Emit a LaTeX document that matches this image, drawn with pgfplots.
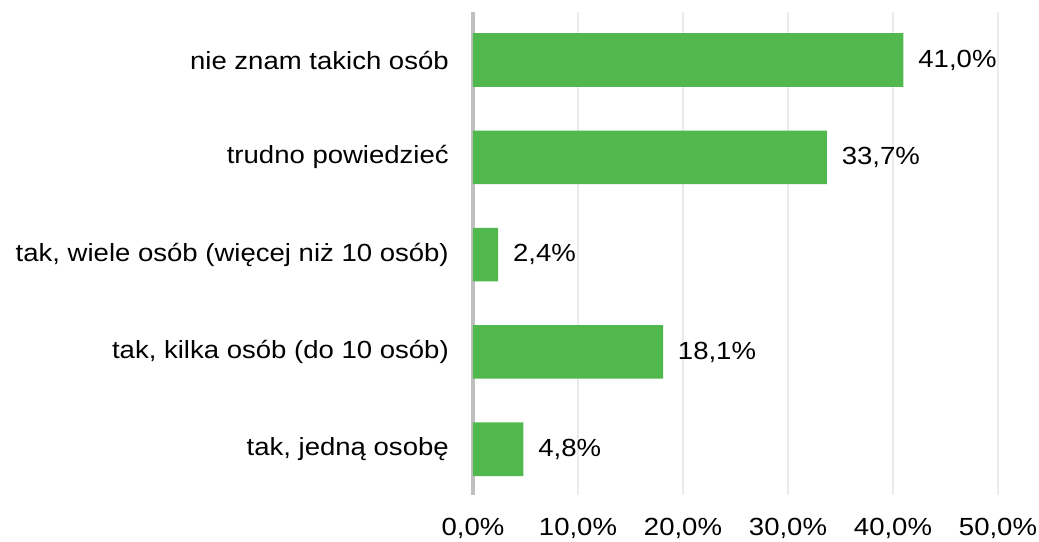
\documentclass[border=0pt]{standalone}
\usepackage{pgfplots}
\pgfplotsset{compat=1.18}
\usepackage{fontspec}
\setmainfont{Liberation Sans}[FakeStretch=1.11]
\definecolor{barg}{RGB}{80,184,76}
\begin{document}
\fontsize{18.6}{22}\selectfont
\begin{tikzpicture}
\path[use as bounding box] (0,0) rectangle (779.25pt,406.5pt);
\begin{axis}[
  at={(354.75pt,35.25pt)}, anchor=south west,
  scale only axis, width=393.75pt, height=362pt,
  /pgf/number format/assume math mode=true,
  xbar, bar width=0.55,
  xmin=0, xmax=50, ymin=-0.47, ymax=4.49,
  xtick={0,10,...,50}, ytick={0,1,2,3,4},
  yticklabels={{tak, jedną osobę},{tak, kilka osób (do 10 osób)},{tak, wiele osób (więcej niż 10 osób)},{trudno powiedzieć},{nie znam takich osób}},
  xticklabel={\pgfmathprintnumber[fixed,fixed zerofill,precision=1,use comma]{\tick}\%},
  major tick length=0pt,
  axis line style={draw=none},
  xmajorgrids, grid style={draw=black!8, line width=0.8pt},
  extra x ticks={0}, extra x tick labels={},
  extra x tick style={grid style={draw=black!25, line width=2.3pt}},
  xticklabel style={inner sep=0pt, yshift=-17pt},
  yticklabel style={inner sep=0pt, xshift=-18pt},
  point meta=x,
  nodes near coords={\pgfmathprintnumber[fixed,fixed zerofill,precision=1,use comma]{\pgfplotspointmeta}\%},
  nodes near coords style={inner sep=0pt, anchor=west, xshift=11pt, text=black},
]
\addplot[fill=barg, draw=none] coordinates {(4.8,0) (18.1,1) (2.4,2) (33.7,3) (41.0,4)};
\end{axis}
\end{tikzpicture}
\end{document}
